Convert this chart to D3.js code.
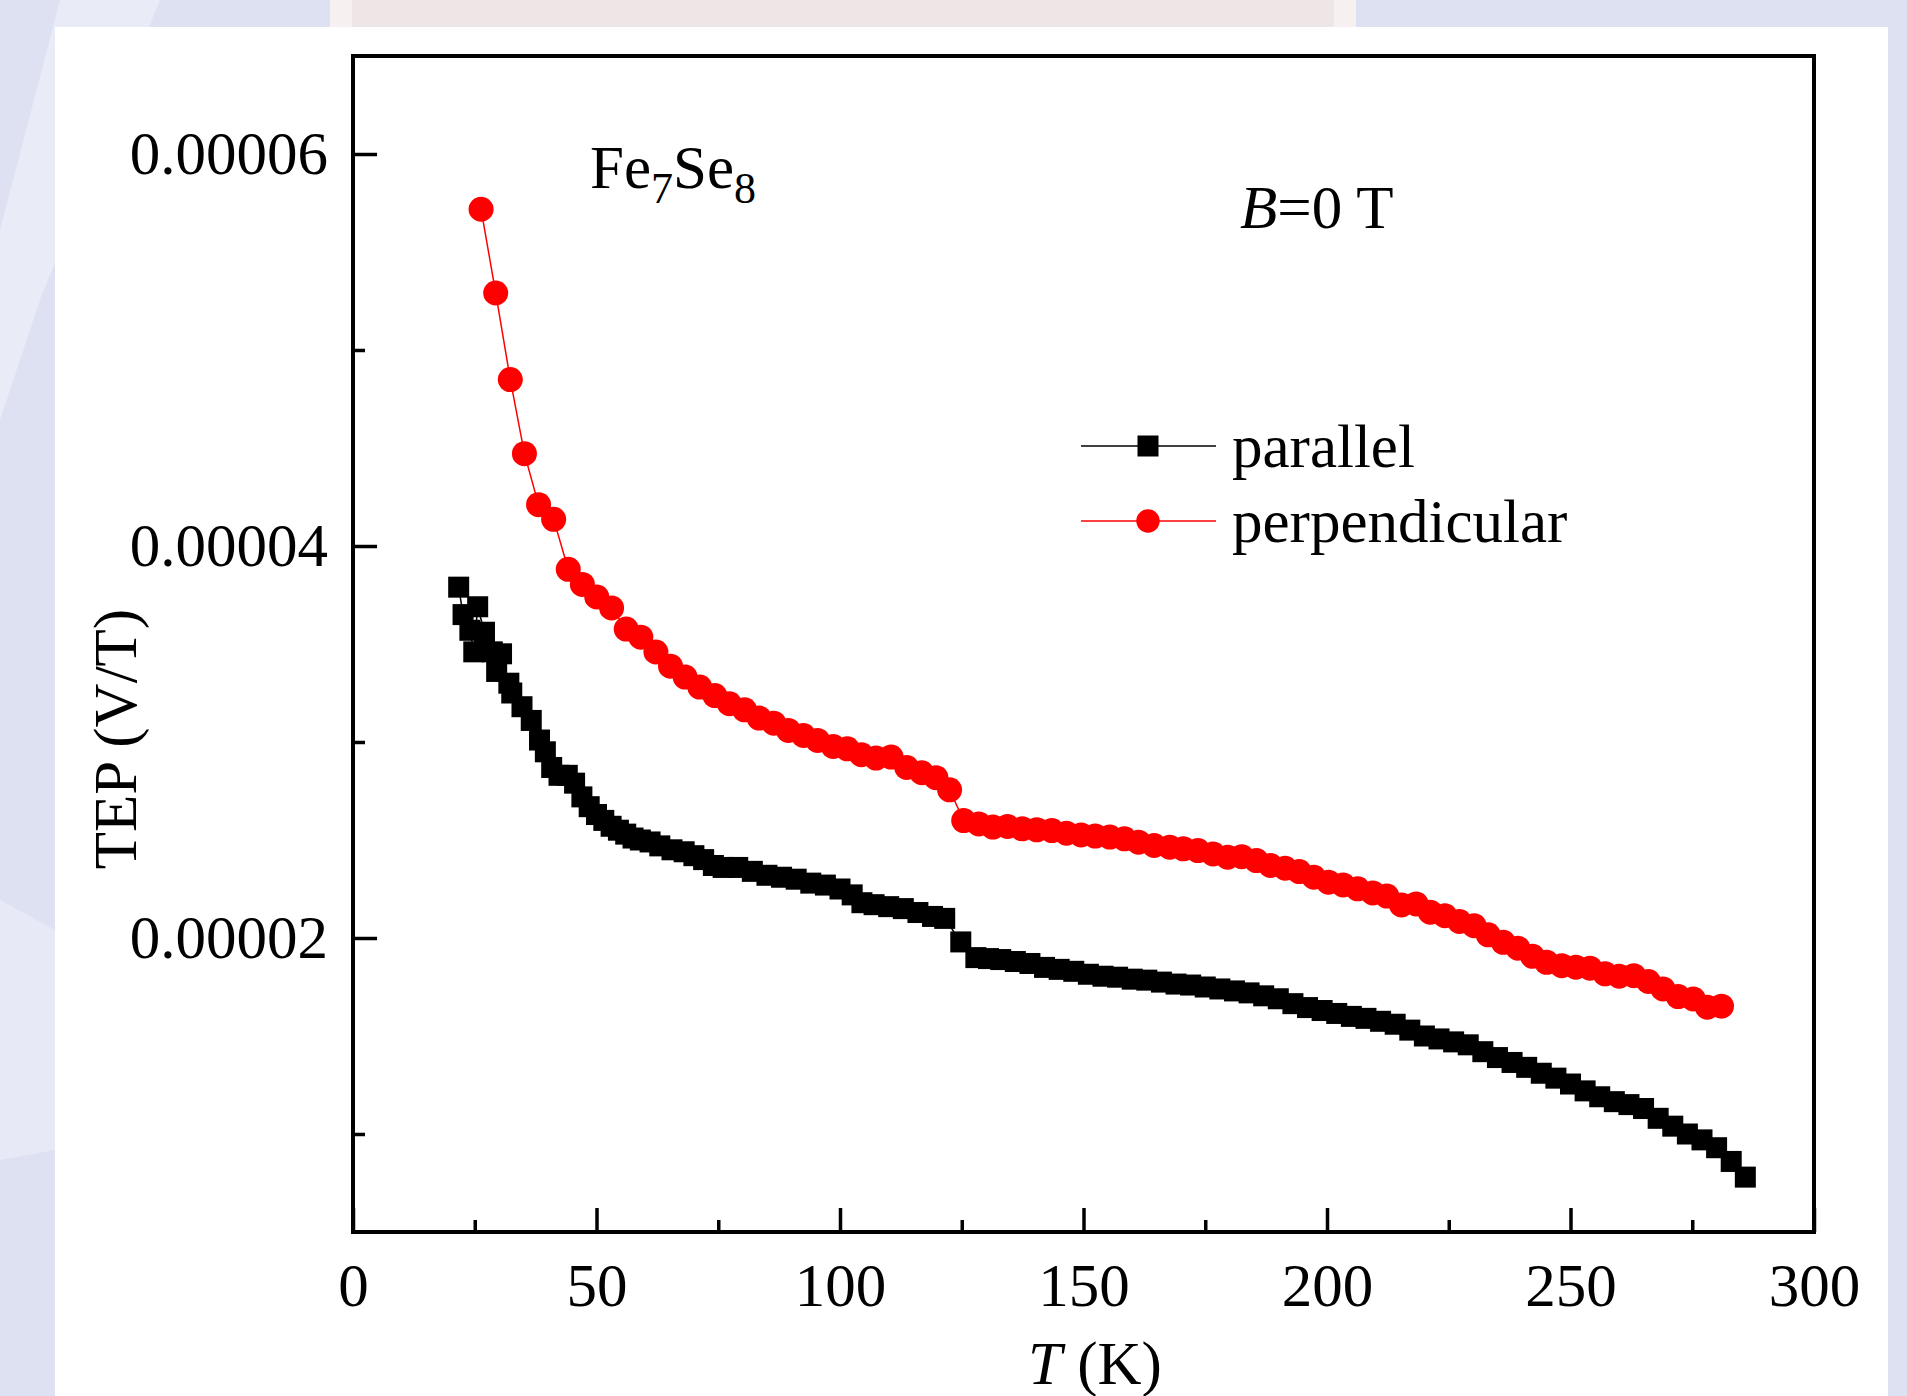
<!DOCTYPE html>
<html>
<head>
<meta charset="utf-8">
<script src="https://cdn.jsdelivr.net/npm/d3@7"></script>
<style>
    body { margin: 0; background: #dde1f2; }
    svg { display: block; }
    text { font-family: "Liberation Serif", "Times New Roman", serif; fill: #000; }
</style>
</head>
<body>
<div id="chart"></div>
<script>
// values in units of 1e-5 V/T
const UNIT = 1e-5;

const tempParallel = [21.7, 22.6, 24.0, 24.8, 25.6, 27.0, 28.6, 29.5, 30.5, 32.0, 32.6, 34.7, 36.6, 38.3, 39.5, 40.8, 42.3, 44.0, 45.5, 47.0,
    48.5, 50.0, 51.5, 53.0, 54.5, 56.0, 57.5, 59.0, 61.0, 63.0, 65.5, 68.0, 70.0, 72.0, 74.0, 76.0, 79.0, 82.0, 85.0, 88.0,
    91.0, 94.0, 97.0, 100.0, 102.5, 104.5, 107.0, 110.0, 113.0, 116.0, 119.0, 121.5, 124.8, 127.9, 130.5, 133.0, 136.0, 139.0, 142.0, 145.0,
    148.0, 151.0, 154.0, 157.0, 160.0, 163.0, 166.0, 169.0, 172.0, 175.0, 178.0, 181.0, 184.0, 187.0, 190.0, 193.0, 196.0, 199.0, 202.0, 205.0,
    208.0, 211.0, 214.0, 217.0, 220.0, 223.0, 226.0, 229.0, 232.0, 235.0, 238.0, 241.0, 244.0, 247.0, 250.0, 253.0, 256.0, 259.0, 262.0, 265.0,
    268.0, 271.0, 274.0, 277.0, 280.0, 283.0, 285.9];
const tepParallel = [3.79, 3.65, 3.57, 3.46, 3.69, 3.56, 3.46, 3.36, 3.45, 3.30, 3.25, 3.18, 3.11, 3.01, 2.95, 2.87, 2.83, 2.83, 2.79, 2.72,
    2.67, 2.63, 2.60, 2.57, 2.55, 2.53, 2.51, 2.50, 2.49, 2.47, 2.45, 2.44, 2.42, 2.40, 2.37, 2.36, 2.36, 2.34, 2.32, 2.31,
    2.30, 2.28, 2.27, 2.25, 2.22, 2.18, 2.17, 2.16, 2.15, 2.13, 2.11, 2.10, 1.98, 1.90, 1.895, 1.89, 1.88, 1.87, 1.85, 1.84,
    1.83, 1.815, 1.805, 1.80, 1.79, 1.785, 1.775, 1.765, 1.76, 1.75, 1.74, 1.73, 1.72, 1.705, 1.69, 1.665, 1.645, 1.63, 1.615, 1.60,
    1.59, 1.575, 1.56, 1.53, 1.50, 1.485, 1.47, 1.455, 1.42, 1.39, 1.365, 1.34, 1.31, 1.285, 1.255, 1.22, 1.19, 1.165, 1.15, 1.13,
    1.08, 1.04, 1.00, 0.97, 0.93, 0.86, 0.78];

const tempPerp = [26.3, 29.3, 32.3, 35.2, 38.1, 41.2, 44.2, 47.1, 50.05, 53.1, 56.1, 59.1, 62.2, 65.2, 68.2, 71.2, 74.3, 77.3, 80.4, 83.4,
    86.4, 89.4, 92.5, 95.4, 98.6, 101.5, 104.4, 107.4, 110.5, 113.7, 116.8, 119.7, 122.5, 125.4, 128.5, 131.4, 134.4, 137.4, 140.4, 143.5,
    146.5, 149.5, 152.4, 155.4, 158.4, 161.3, 164.5, 167.7, 170.5, 173.5, 176.6, 179.6, 182.5, 185.5, 188.4, 191.4, 194.3, 197.3, 200.3, 203.3,
    206.3, 209.4, 212.3, 215.3, 218.3, 221.2, 224.2, 227.2, 230.2, 233.1, 236.2, 239.2, 242.2, 245.1, 248.2, 251.1, 254.0, 257.1, 260.0, 263.0,
    266.0, 269.0, 272.1, 275.2, 278.1, 281.0];
const tepPerp = [5.718, 5.291, 4.849, 4.471, 4.211, 4.136, 3.881, 3.804, 3.740, 3.684, 3.576, 3.535, 3.459, 3.387, 3.331, 3.280, 3.237, 3.195, 3.164, 3.122,
    3.096, 3.059, 3.033, 3.008, 2.977, 2.965, 2.935, 2.918, 2.923, 2.870, 2.843, 2.818, 2.756, 2.599, 2.582, 2.566, 2.569, 2.557, 2.552, 2.548,
    2.535, 2.526, 2.520, 2.515, 2.506, 2.489, 2.472, 2.463, 2.455, 2.446, 2.429, 2.412, 2.415, 2.395, 2.370, 2.356, 2.339, 2.310, 2.285, 2.271,
    2.251, 2.230, 2.214, 2.169, 2.174, 2.132, 2.114, 2.084, 2.063, 2.016, 1.978, 1.948, 1.907, 1.876, 1.859, 1.851, 1.846, 1.817, 1.805, 1.808,
    1.778, 1.740, 1.701, 1.689, 1.647, 1.652];

const xMajorTicks = [0, 50, 100, 150, 200, 250, 300];
const xMinorTicks = [25, 75, 125, 175, 225, 275];
const yMajorTicks = [2e-5, 4e-5, 6e-5];
const yMinorTicks = [1e-5, 3e-5, 5e-5];

const seriesNames = ['parallel', 'perpendicular'];
const seriesColors = ['#000000', '#ff0000'];

const W = 1907, H = 1396;
const frame = { left: 353, right: 1814, top: 56, bottom: 1232 };
const fontSize = 61;

const svg = d3.select('#chart')
    .append('svg')
    .attr('width', W)
    .attr('height', H);

// page background decoration
svg.append('rect').attr('width', W).attr('height', H).attr('fill', '#dde1f2');
svg.append('path')
    .attr('d', 'M60,0 L160,0 L40,300 L0,420 L0,230 Z')
    .attr('fill', '#ffffff').attr('opacity', 0.35);
svg.append('path')
    .attr('d', 'M0,900 L55,930 L55,1150 L0,1160 Z')
    .attr('fill', '#ffffff').attr('opacity', 0.3);
svg.append('rect').attr('x', 330).attr('y', 0).attr('width', 1026).attr('height', 27).attr('fill', '#f6f0f1');
svg.append('rect').attr('x', 352).attr('y', 0).attr('width', 982).attr('height', 27).attr('fill', '#eee5e6');
svg.append('rect').attr('x', 55).attr('y', 27).attr('width', 1833).attr('height', H - 27).attr('fill', '#ffffff');

const x = d3.scaleLinear().domain([0, 300]).range([frame.left, frame.right]);
const y = d3.scaleLinear().domain([0.5e-5, 6.5e-5]).range([frame.bottom, frame.top]);

const parallelData = tempParallel.map((t, i) => ({ t: t, v: tepParallel[i] * UNIT }));
const perpData = tempPerp.map((t, i) => ({ t: t, v: tepPerp[i] * UNIT }));

// axes
const xAxisMajor = svg.append('g')
    .attr('transform', `translate(0,${frame.bottom})`)
    .call(d3.axisBottom(x).tickValues(xMajorTicks).tickSize(-24).tickPadding(31));
const xAxisMinor = svg.append('g')
    .attr('transform', `translate(0,${frame.bottom})`)
    .call(d3.axisBottom(x).tickValues(xMinorTicks).tickSize(-12).tickFormat(''));
const yAxisMajor = svg.append('g')
    .attr('transform', `translate(${frame.left},0)`)
    .call(d3.axisLeft(y).tickValues(yMajorTicks).tickSize(-24).tickPadding(25).tickFormat(d => d.toFixed(5)));
const yAxisMinor = svg.append('g')
    .attr('transform', `translate(${frame.left},0)`)
    .call(d3.axisLeft(y).tickValues(yMinorTicks).tickSize(-12).tickFormat(''));

[xAxisMajor, xAxisMinor, yAxisMajor, yAxisMinor].forEach(g => {
    g.select('.domain').remove();
    g.selectAll('.tick line').attr('stroke', '#000').attr('stroke-width', 3.5);
    g.selectAll('.tick text')
        .style('font-family', '"Liberation Serif", "Times New Roman", serif')
        .style('font-size', fontSize + 'px')
        .attr('fill', '#000');
});

// data: lines then markers
const line = d3.line().x(d => x(d.t)).y(d => y(d.v));

svg.append('path')
    .datum(parallelData)
    .attr('d', line)
    .attr('fill', 'none')
    .attr('stroke', seriesColors[0])
    .attr('stroke-width', 1.5);

svg.append('path')
    .datum(perpData)
    .attr('d', line)
    .attr('fill', 'none')
    .attr('stroke', seriesColors[1])
    .attr('stroke-width', 1.5);

const sq = 21;
svg.append('g')
    .selectAll('rect')
    .data(parallelData)
    .join('rect')
    .attr('x', d => x(d.t) - sq / 2)
    .attr('y', d => y(d.v) - sq / 2)
    .attr('width', sq)
    .attr('height', sq)
    .attr('fill', seriesColors[0]);

svg.append('g')
    .selectAll('circle')
    .data(perpData)
    .join('circle')
    .attr('cx', d => x(d.t))
    .attr('cy', d => y(d.v))
    .attr('r', 12.5)
    .attr('fill', seriesColors[1]);

// frame
svg.append('rect')
    .attr('x', frame.left)
    .attr('y', frame.top)
    .attr('width', frame.right - frame.left)
    .attr('height', frame.bottom - frame.top)
    .attr('fill', 'none')
    .attr('stroke', '#000')
    .attr('stroke-width', 4);

// axis titles
const xTitle = svg.append('text')
    .attr('x', 1095)
    .attr('y', 1384)
    .attr('text-anchor', 'middle')
    .style('font-size', fontSize + 'px');
xTitle.append('tspan').attr('font-style', 'italic').text('T');
xTitle.append('tspan').text(' (K)');

svg.append('text')
    .attr('transform', 'translate(136,739) rotate(-90)')
    .attr('text-anchor', 'middle')
    .style('font-size', fontSize + 'px')
    .text('TEP (V/T)');

// annotations
const formula = svg.append('text')
    .attr('x', 590)
    .attr('y', 188)
    .style('font-size', fontSize + 'px');
formula.append('tspan').text('Fe');
formula.append('tspan').attr('font-size', 44).attr('dy', 15).text('7');
formula.append('tspan').attr('dy', -15).text('Se');
formula.append('tspan').attr('font-size', 44).attr('dy', 15).text('8');

const field = svg.append('text')
    .attr('x', 1240)
    .attr('y', 228)
    .style('font-size', fontSize + 'px');
field.append('tspan').attr('font-style', 'italic').text('B');
field.append('tspan').text('=0 T');

// legend
const legendY = [446, 521];
const legend = svg.append('g');
seriesNames.forEach((name, i) => {
    legend.append('line')
        .attr('x1', 1081).attr('x2', 1216)
        .attr('y1', legendY[i]).attr('y2', legendY[i])
        .attr('stroke', seriesColors[i])
        .attr('stroke-width', 1.5);
    legend.append('text')
        .attr('x', 1232)
        .attr('y', legendY[i] + 21)
        .style('font-size', fontSize + 'px')
        .text(name);
});
legend.append('rect')
    .attr('x', 1148 - sq / 2).attr('y', legendY[0] - sq / 2)
    .attr('width', sq).attr('height', sq)
    .attr('fill', seriesColors[0]);
legend.append('circle')
    .attr('cx', 1148).attr('cy', legendY[1])
    .attr('r', 11.7)
    .attr('fill', seriesColors[1]);
</script>
</body>
</html>
